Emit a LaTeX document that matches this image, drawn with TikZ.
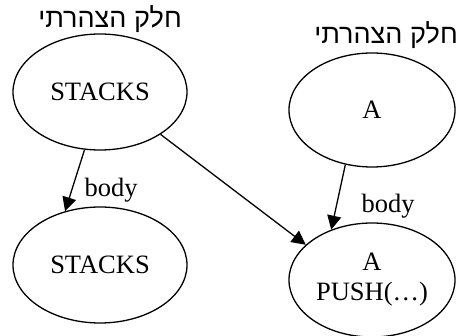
\documentclass[tikz,border=0pt]{standalone}
\usepackage{fontspec}
\setmainfont{Liberation Serif}
\newfontfamily\hebfont[Script=Hebrew]{Liberation Sans}
\TeXXeTstate=1
\usetikzlibrary{shapes.geometric,arrows.meta}
\begin{document}
\begin{tikzpicture}[x=1pt,y=-1pt,
  ell/.style={draw,ellipse,line width=1.3pt,inner sep=0pt,font=\fontsize{26.5}{30}\selectfont,align=center},
  lbl/.style={inner sep=0pt,font=\fontsize{26.5}{30}\selectfont},
  heb/.style={inner sep=0pt,font=\hebfont\fontsize{27}{31}\selectfont},
  arr/.style={line width=1.3pt,-{Triangle[length=14pt,width=14pt]}}]
\useasboundingbox (0,0) rectangle (458,336);
\node[heb] (h1) at (110,19) {\beginR חלק הצהרתי\endR};
\node[heb] (h2) at (386,35) {\beginR חלק הצהרתי\endR};
\node[ell,minimum width=174pt,minimum height=116pt] (s1) at (100,92) {STACKS};
\node[ell,minimum width=166pt,minimum height=114pt] (a1) at (372,110) {A};
\node[ell,minimum width=174pt,minimum height=116pt] (s2) at (100,265) {STACKS};
\node[ell,minimum width=166pt,minimum height=114pt] (a2) at (372,280) {A\\PUSH(\dots)};
\draw[arr] (s1.-105.8) -- (s2.123.9);
\draw[arr] (s1.-35.6) -- (a2.152.3);
\draw[arr] (a1.-116) -- (a2.129.4);
\node[lbl] (b1) at (111,190) {body};
\node[lbl] (b2) at (388,206) {body};
\end{tikzpicture}
\end{document}
